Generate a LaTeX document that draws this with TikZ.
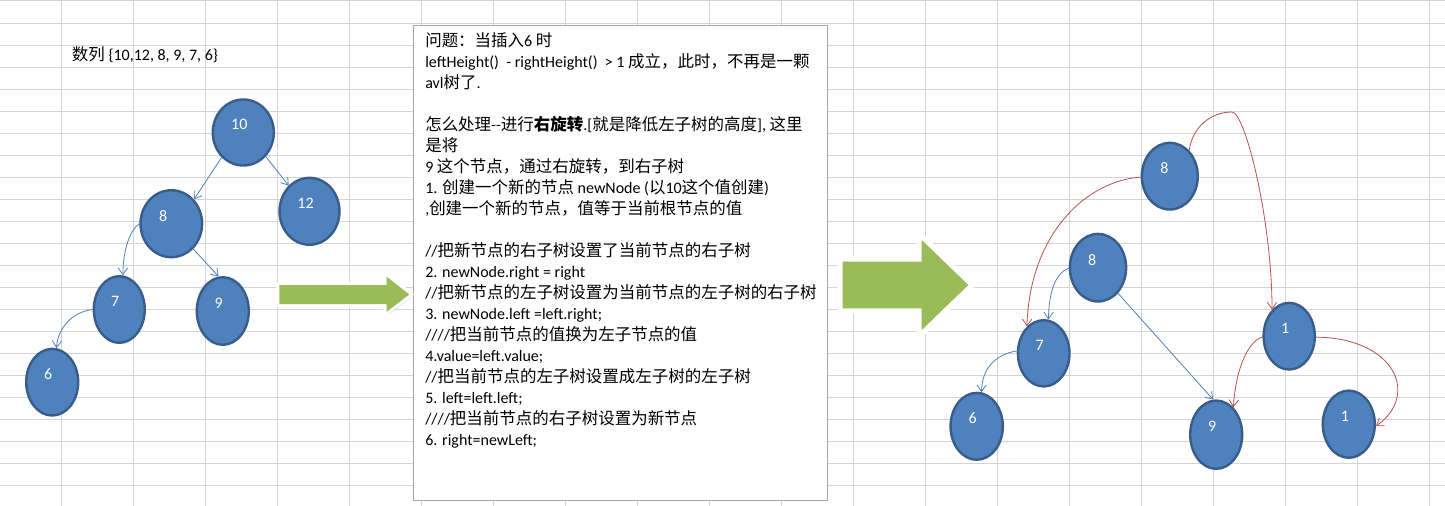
\documentclass[tikz,border=0pt]{standalone}
\usepackage{fontspec}
\setmainfont{Carlito}
\newfontfamily\cjk{Noto Sans CJK SC}[Scale=1.03]
\usetikzlibrary{shapes.geometric,arrows.meta}
\definecolor{nodeblue}{RGB}{79,129,189}
\definecolor{nodeborder}{RGB}{56,93,138}
\definecolor{edgeblue}{RGB}{79,129,189}
\definecolor{edgered}{RGB}{192,80,77}
\definecolor{arrowgreen}{RGB}{155,187,89}
\definecolor{gridgray}{RGB}{212,212,212}
\definecolor{boxgray}{RGB}{165,165,165}
\newcommand\zh[1]{{\cjk #1}}
\begin{document}
\begin{tikzpicture}[x=0.75pt,y=-0.75pt,
 tn/.style={ellipse,draw=nodeborder,fill=nodeblue,line width=1.8pt,inner sep=0pt},
 lbl/.style={text=white,font=\fontsize{12pt}{14pt}\selectfont,inner sep=0pt,xshift=-3pt,yshift=6pt},
 ba/.style={draw=edgeblue,line width=0.6pt,-{Straight Barb[length=5pt,width=7pt]}},
 ra/.style={ba,draw=edgered},
 txt/.style={anchor=base west,inner sep=0pt,font=\fontsize{12pt}{14pt}\selectfont},
]
\useasboundingbox (0,0) rectangle (1445,506);
\fill[white] (0,0) rectangle (1445,506);
% grid
\foreach \k in {0,...,19} \draw[gridgray,line width=0.75pt] ({61.7+72*\k},0) -- ({61.7+72*\k},506);
\foreach \k in {0,...,22} \draw[gridgray,line width=0.75pt] (0,{1+22.02*\k}) -- (1445,{1+22.02*\k});

% text box
\node[draw=boxgray,fill=white,line width=0.9pt,inner sep=0pt,minimum width=310.5pt,minimum height=356pt,anchor=north west] (box) at (413,25) {};

% green arrows
\def\arrowone{(279.3,285) -- (386.7,285) -- (386.7,276.7) -- (409.3,294.5) -- (386.7,311.7) -- (386.7,304) -- (279.3,304) -- cycle}
\def\arrowtwo{(842.7,261.7) -- (921.7,261.7) -- (921.7,240) -- (968.3,285) -- (921.7,330) -- (921.7,308.3) -- (842.7,308.3) -- cycle}
\fill[black,opacity=0.12,shift={(2,3)}] \arrowone;
\draw[white,line width=4.5pt,line join=miter] \arrowone;
\fill[arrowgreen] \arrowone;
\fill[black,opacity=0.12,shift={(3,4)}] \arrowtwo;
\draw[white,line width=8pt,line join=miter] \arrowtwo;
\fill[arrowgreen] \arrowtwo;

% text
\node[txt] (title) at (71.7,60.5) {\zh{数列} \{10,12, 8, 9, 7, 6\}};
\node[txt] (t0) at (425,46.5) {\zh{问题：当插入}6 \zh{时}};
\node[txt] (t1) at (425,67.5) {leftHeight()\ \ - rightHeight()\ \ > 1 \zh{成立，此时，不再是一颗}};
\node[txt] (t2) at (425,88.5) {avl\zh{树了}.};
\node[txt] (t4) at (425,130.5) {\zh{怎么处理}-{}-\zh{进行}\textbf{\zh{右旋转}}.[\zh{就是降低左子树的高度}], \zh{这里}};
\node[txt] (t5) at (425,151.5) {\zh{是将}};
\node[txt] (t6) at (425,172.5) {9 \zh{这个节点，通过右旋转，到右子树}};
\node[txt] (t7) at (425,193.5) {1. \zh{创建一个新的节点} newNode (\zh{以}10\zh{这个值创建})};
\node[txt] (t8) at (425,214.5) {,\zh{创建一个新的节点，值等于当前根节点的值}};
\node[txt] (t10) at (425,256.5) {//\zh{把新节点的右子树设置了当前节点的右子树}};
\node[txt] (t11) at (425,277.5) {2. newNode.right = right};
\node[txt] (t12) at (425,298.5) {//\zh{把新节点的左子树设置为当前节点的左子树的右子树}};
\node[txt] (t13) at (425,319.5) {3. newNode.left =left.right;};
\node[txt] (t14) at (425,340.5) {////\zh{把当前节点的值换为左子节点的值}};
\node[txt] (t15) at (425,361.5) {4.value=left.value;};
\node[txt] (t16) at (425,382.5) {//\zh{把当前节点的左子树设置成左子树的左子树}};
\node[txt] (t17) at (425,403.5) {5. left=left.left;};
\node[txt] (t18) at (425,424.5) {////\zh{把当前节点的右子树设置为新节点}};
\node[txt] (t19) at (425,445.5) {6. right=newLeft;};

% left tree
\node[tn,minimum width=45.8pt,minimum height=49.5pt,label={[lbl]center:10}] (n10) at (243.3,132.5) {};
\node[tn,minimum width=45pt,minimum height=50.2pt,label={[lbl]center:12}] (n12) at (309.5,211.3) {};
\node[tn,minimum width=46.2pt,minimum height=50.2pt,label={[lbl,xshift=-3pt]center:8}] (n8) at (171.3,223.7) {};
\node[tn,minimum width=38.2pt,minimum height=50pt,label={[lbl]center:7}] (n7) at (119.3,309.5) {};
\node[tn,minimum width=39pt,minimum height=50.7pt,label={[lbl]center:9}] (n9) at (222.8,311) {};
\node[tn,minimum width=39pt,minimum height=50pt,label={[lbl]center:6}] (n6) at (52.2,382.2) {};

\draw[ba] (n10.229) -- (n8.47);
\draw[ba] (n10.313) -- (n12.129);
\draw[ba] (n8.180) .. controls (130,230) and (123,250) .. (n7.84);
\draw[ba] (n8.311) -- (n9.97);
\draw[ba] (n7.180) .. controls (72,312) and (58,328) .. (n6.83);

% right tree
\node[tn,minimum width=42pt,minimum height=50pt,label={[lbl,xshift=-1pt]center:8}] (r8a) at (1169.8,176.2) {};
\node[tn,minimum width=42.2pt,minimum height=50.7pt,label={[lbl,xshift=-1.3pt]center:8}] (r8b) at (1098,267.7) {};
\node[tn,minimum width=38.7pt,minimum height=49.7pt,label={[lbl]center:7}] (r7) at (1043.7,353.3) {};
\node[tn,minimum width=39.2pt,minimum height=50.2pt,label={[lbl]center:6}] (r6) at (976.7,426.3) {};
\node[tn,minimum width=39pt,minimum height=51.2pt,label={[lbl]center:9}] (r9) at (1216.2,434.7) {};
\node[tn,minimum width=38.4pt,minimum height=50pt,label={[lbl]center:1}] (r1a) at (1289.2,336.2) {};
\node[tn,minimum width=39pt,minimum height=50.4pt,label={[lbl]center:1}] (r1b) at (1348.8,424.2) {};

\draw[ra] (r8a.53) .. controls (1192,128) and (1210,112) .. (1232,112) .. controls (1245,112) and (1272,220) .. (r1a.123);
\draw[ra] (r8a.182) .. controls (1090,180) and (1030,230) .. (r7.122);
\draw[ra] (r1a.182) .. controls (1250,340) and (1236,365) .. (r9.58);
\draw[ra] (r1a.358) .. controls (1395,338) and (1420,395) .. (r1b.356);
\draw[ba] (r8b.181) .. controls (1056,273) and (1049,290) .. (r7.82);
\draw[ba] (r8b.308) -- (r9.95);
\draw[ba] (r7.175) .. controls (998,354) and (982,366) .. (r6.82);
\end{tikzpicture}
\end{document}
